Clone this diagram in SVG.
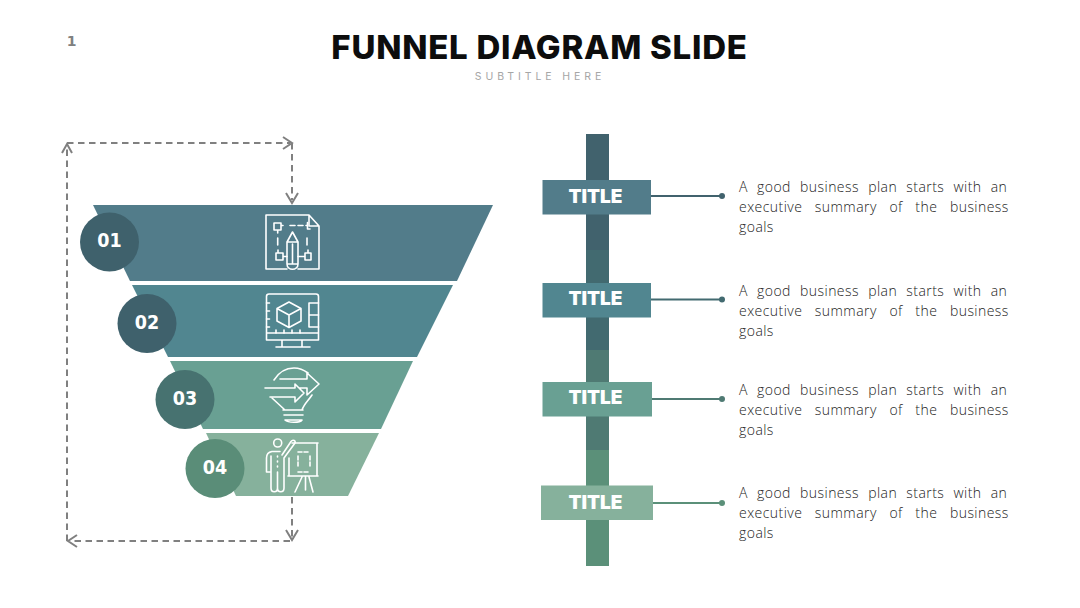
<svg xmlns="http://www.w3.org/2000/svg" width="1080" height="608" viewBox="0 0 1080 608">
<style>
.ic{fill:none;stroke:#fff;stroke-width:1.6;stroke-linejoin:round;stroke-linecap:round}
.num{font-family:"DejaVu Sans",sans-serif;font-weight:700;font-stretch:condensed;font-size:19.500px;fill:#fff;text-anchor:middle}
.tt{font-family:"Inter","Noto Sans",sans-serif;font-weight:900;font-size:19px;fill:#fff;text-anchor:middle}
.body{font-family:"Open Sans",sans-serif;font-weight:300;font-size:14px;fill:#222;letter-spacing:.45px}
.dash{fill:none;stroke:#808080;stroke-width:2;stroke-dasharray:6.5 4.5}
.head{fill:none;stroke:#808080;stroke-width:2}
</style>
<rect width="1080" height="608" fill="#fff"/>
<text x="71.500" y="46" font-family="DejaVu Sans,sans-serif" font-weight="700" font-size="14" fill="#808080" text-anchor="middle">1</text>
<text x="539.500" y="59" font-family="Inter,Noto Sans,sans-serif" font-weight="800" font-size="33" letter-spacing=".75" fill="#0d0d0d" text-anchor="middle">FUNNEL DIAGRAM SLIDE</text>
<text x="540" y="80" font-family="Inter,Noto Sans,sans-serif" font-size="10.500" letter-spacing="3.900" fill="#a6a6a6" text-anchor="middle">SUBTITLE HERE</text>

<g id="connectors">
<path class="dash" d="M67 541V146M67 143H290M292 143V200M292 497V539M290 541H70"/>
<path class="head" d="M62 153L67 144L72 153M283 137L292 143L283 149M286 193L292 203L298 193M286 530L292 540L298 530M77 535L68 541L77 547"/>
<path d="M651 196H722" stroke="#41626d" stroke-width="2" fill="none"/><circle cx="722" cy="196" r="3" fill="#41626d"/>
<path d="M651 299.500H722" stroke="#426a70" stroke-width="2" fill="none"/><circle cx="722" cy="299.500" r="3" fill="#426a70"/>
<path d="M652 399H722" stroke="#4f7a73" stroke-width="2" fill="none"/><circle cx="722" cy="399" r="3" fill="#4f7a73"/>
<path d="M653 503H722" stroke="#5b9079" stroke-width="2" fill="none"/><circle cx="722" cy="503" r="3" fill="#5b9079"/>
</g>

<g id="stage-1">
<path d="M93 205H493L457 281H130Z" fill="#527c8a"/>
<circle cx="109.500" cy="242" r="29.500" fill="#3f616c"/>
<text class="num" x="109.500" y="247">01</text>
<g class="ic">
<path d="M287 269H266V215H309L319 226V269H298M309 215V226H319"/>
<path d="M274 223h7v7h-7zM277.700 230v3M281 225.500h2M290 225.500h5M298 225.500h5M306 225.500h1.500v-3M307.500 225.500v3.500h2.500M277.700 238v7M307 238v7M276 253h7v7h-7zM283 256.500h4M278 253v-3M305 253h6v7h-6zM298 256.500h7M308 253v-3"/>
<path d="M287 264V242L292.500 232L298 242V264ZM287 242H298M287 264C287 271 298 271 298 264M292.500 244V264"/>
</g>
</g>

<g id="stage-2">
<path d="M132 285H453L417 357H168Z" fill="#518690"/>
<circle cx="147" cy="323.500" r="29.500" fill="#3f616c"/>
<text class="num" x="147" y="328.500">02</text>
<g class="ic">
<path d="M269 294H316a2.500 2.500 0 0 1 2.500 2.500V340H266.500V296.500A2.500 2.500 0 0 1 269 294ZM266.500 333H318.500M282 340L282 347M302 340V347M276 347H310"/>
<path d="M309 303H318.500M309 303V327H318.500M309 315H318.500M266.500 303h3M266.500 311h3M266.500 319h3M266.500 327h3M276 333v-3M284 333v-3M292 333v-3M300 333v-3"/>
<path d="M289 302L301 308.500V321L289 327.500L277 321V308.500ZM277 308.500L289 315L301 308.500M289 315V327.500"/>
</g>
</g>

<g id="stage-3">
<path d="M170 361H413L381 429H203Z" fill="#69a093"/>
<circle cx="185" cy="399.500" r="29.500" fill="#477270"/>
<text class="num" x="185" y="404.500">03</text>
<g class="ic">
<path d="M274 380C279 372 286 368 294 368C299 368 304 370 308 373"/>
<path d="M280 379H307V373L319 384L307 395V388H299M265 388H295V384L304 393L295 402V397H270"/>
<path d="M272 398L285 410M312 395C308 401 304 404 302 410M283 410H303M284 415H303M285 420H302C300 423 288 423 285 420Z"/>
</g>
</g>

<g id="stage-4">
<path d="M206 433H379L348 496H236Z" fill="#86b19c"/>
<circle cx="215" cy="468.500" r="29.500" fill="#5a8d78"/>
<text class="num" x="215" y="473.500">04</text>
<g class="ic">
<circle cx="277.700" cy="443" r="4"/>
<path d="M282 455L291 441.500C293 439 296 441 295 443L284 458V488C284 493 277.500 493 277.500 488V472M271 472V488C271 493 277.500 493 277.500 488M271 456V472H266.500V458C266.500 454 269 452 272 451.500H280M277.500 456v1M277.500 461v1M277.500 466v1"/>
<path d="M292 443H318M317 443V476M288 476H318M289 458V476M302 477L295 492M309 477L313 492M305.500 477V490"/>
<path d="M298 452H310M298 472H310M298 456V468M310 456V468" stroke-dasharray="4 2"/>
</g>
</g>

<g id="bar">
<rect x="586" y="134" width="23" height="116" fill="#41626d"/>
<rect x="586" y="250" width="23" height="100" fill="#426a70"/>
<rect x="586" y="350" width="23" height="100" fill="#4f7a73"/>
<rect x="586" y="450" width="23" height="116" fill="#5b9079"/>
</g>

<g id="item-1">
<rect x="542.500" y="180" width="108.500" height="34.500" fill="#527c8a"/>
<text class="tt" x="595.500" y="203">TITLE</text>
<text class="body" x="739" y="192" word-spacing="5.100">A good business plan starts with an</text>
<text class="body" x="739" y="212" word-spacing="8.500">executive summary of the business</text>
<text class="body" x="739" y="232">goals</text>
</g>
<g id="item-2">
<rect x="542.500" y="283" width="108.500" height="34.500" fill="#518690"/>
<text class="tt" x="595.500" y="305">TITLE</text>
<text class="body" x="739" y="296" word-spacing="5.100">A good business plan starts with an</text>
<text class="body" x="739" y="316" word-spacing="8.500">executive summary of the business</text>
<text class="body" x="739" y="336">goals</text>
</g>
<g id="item-3">
<rect x="542.500" y="382" width="109.500" height="34.500" fill="#69a093"/>
<text class="tt" x="595.500" y="404">TITLE</text>
<text class="body" x="739" y="395" word-spacing="5.100">A good business plan starts with an</text>
<text class="body" x="739" y="415" word-spacing="8.500">executive summary of the business</text>
<text class="body" x="739" y="435">goals</text>
</g>
<g id="item-4">
<rect x="541" y="485.500" width="112" height="34.500" fill="#86b19c"/>
<text class="tt" x="595.500" y="509">TITLE</text>
<text class="body" x="739" y="498" word-spacing="5.100">A good business plan starts with an</text>
<text class="body" x="739" y="518" word-spacing="8.500">executive summary of the business</text>
<text class="body" x="739" y="538">goals</text>
</g>
</svg>
